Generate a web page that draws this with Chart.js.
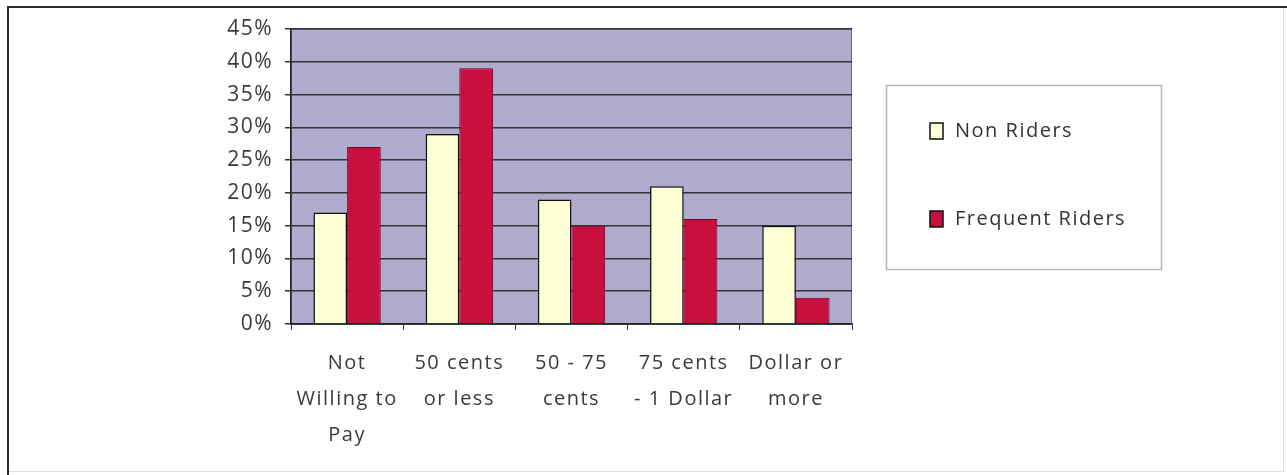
<!DOCTYPE html>
<html>
<head>
<meta charset="utf-8">
<script src="https://cdn.jsdelivr.net/npm/chart.js@4.4.0/dist/chart.umd.min.js"></script>
<style>
  body { margin: 0; background: #fff; }
  canvas { display: block; }
</style>
</head>
<body>
<canvas id="chart1" width="1287" height="475"></canvas>
<script>
// categories (multi-line labels as in the picture)
let categories = [
    ["Not", "Willing to", "Pay"],
    ["50 cents", "or less"],
    ["50 - 75", "cents"],
    ["75 cents", "- 1 Dollar"],
    ["Dollar or", "more"]
];
let nonRiders = [17, 29, 19, 21, 15];
let frequentRiders = [27, 39, 15, 16, 4];
let seriesNames = ["Non Riders", "Frequent Riders"];
let yMax = 45;
let yStep = 5;

// the original font is wide, so space the letters a little
var spacing = {
    id: 'spacing',
    beforeUpdate: function(chart) { chart.ctx.letterSpacing = '1.5px'; },
    beforeDraw: function(chart) { chart.ctx.letterSpacing = '1.5px'; }
};

// plot background + outer frame
var backdrop = {
    id: 'backdrop',
    beforeDraw: function(chart) {
        let c = chart.ctx;
        let a = chart.chartArea;
        c.save();
        c.fillStyle = '#fff';
        c.fillRect(0, 0, chart.width, chart.height);
        // outer frame
        c.strokeStyle = '#dedede';
        c.lineWidth = 1;
        c.strokeRect(8.5, 7.5, chart.width - 12, chart.height - 11);
        c.strokeStyle = '#2a2a2a';
        c.lineWidth = 2;
        c.beginPath();
        c.moveTo(8, chart.height);
        c.lineTo(8, 7);
        c.lineTo(chart.width, 7);
        c.stroke();
        // plot area
        c.fillStyle = '#afabcd';
        c.fillRect(a.left, a.top, a.right - a.left, a.bottom - a.top);
        c.strokeStyle = '#6a6a7a';
        c.lineWidth = 1;
        c.strokeRect(a.left + 0.5, a.top + 0.5, a.right - a.left - 1, a.bottom - a.top);
        c.restore();
    }
};

// boxed legend on the right, like the original
var boxLegend = {
    id: 'boxLegend',
    afterDraw: function(chart) {
        let c = chart.ctx;
        let x = 886, y = 85, w = 275, h = 184;
        c.save();
        c.fillStyle = '#fff';
        c.fillRect(x, y, w, h);
        c.strokeStyle = '#b8b8b8';
        c.lineWidth = 1.5;
        c.strokeRect(x + 0.5, y + 0.5, w, h);
        c.font = '20px "Open Sans", sans-serif';
        c.textBaseline = 'middle';
        let rows = [131, 219];
        chart.data.datasets.forEach(function(ds, i) {
            let cy = rows[i];
            c.fillStyle = ds.backgroundColor;
            c.fillRect(930, cy - 8, 13, 16);
            c.strokeStyle = '#111';
            c.lineWidth = 1.5;
            c.strokeRect(930, cy - 8, 13, 16);
            c.fillStyle = '#333';
            c.fillText(ds.label, 955, cy);
        });
        c.restore();
    }
};

var ctx = document.getElementById('chart1').getContext('2d');
var data = {
    labels: categories,
    datasets: [{
        label: seriesNames[0],
        data: nonRiders,
        backgroundColor: '#ffffd6',
        borderColor: '#111',
        borderWidth: 1.5
    }, {
        label: seriesNames[1],
        data: frequentRiders,
        backgroundColor: '#c8103e',
        borderColor: '#7a0022',
        borderWidth: 1
    }]
};

var options = {
    responsive: false,
    animation: false,
    events: [],
    layout: { padding: { left: 0, top: 29, right: 435, bottom: 0 } },
    datasets: {
        bar: { categoryPercentage: 0.6, barPercentage: 1 }
    },
    plugins: {
        legend: { display: false },
        tooltip: { enabled: false }
    },
    scales: {
        x: {
            grid: { display: true, drawOnChartArea: false, drawTicks: true, tickLength: 6, color: '#333', offset: true },
            border: { display: true, color: '#222', width: 1.5 },
            ticks: {
                color: '#3a3a3a',
                font: { family: '"Open Sans", sans-serif', size: 20, lineHeight: 1.8 },
                padding: 15,
                maxRotation: 0,
                autoSkip: false
            },
            afterFit: function(scale) { scale.height = 151; }
        },
        y: {
            min: 0,
            max: yMax,
            grid: { color: '#33333f', lineWidth: 1.5, tickLength: 6 },
            border: { display: true, color: '#222', width: 1.5 },
            ticks: {
                stepSize: yStep,
                color: '#3a3a3a',
                font: { family: '"Open Sans", sans-serif', size: 21 },
                padding: 12,
                callback: function(v) { return v + '%'; }
            },
            afterFit: function(scale) { scale.width = 291; }
        }
    }
};

var chart = new Chart(ctx, {
    type: 'bar',
    data: data,
    options: options,
    plugins: [spacing, backdrop, boxLegend]
});
</script>
</body>
</html>
